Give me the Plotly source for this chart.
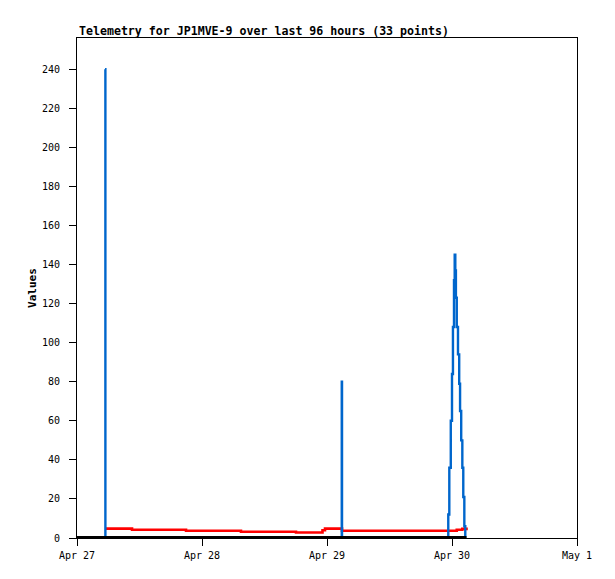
import plotly.graph_objects as go

# Timestamps (shared by the red and blue series)
times = [
    "2024-04-27 05:23", "2024-04-27 05:27", "2024-04-27 10:34", "2024-04-27 20:56",
    "2024-04-28 07:29", "2024-04-28 18:03", "2024-04-28 23:08", "2024-04-28 23:37",
    "2024-04-29 02:50", "2024-04-29 02:53", "2024-04-29 23:17", "2024-04-29 23:29",
    "2024-04-29 23:46", "2024-04-30 00:00", "2024-04-30 00:11", "2024-04-30 00:23",
    "2024-04-30 00:31", "2024-04-30 00:38", "2024-04-30 00:45", "2024-04-30 00:55",
    "2024-04-30 01:09", "2024-04-30 01:23", "2024-04-30 01:33", "2024-04-30 01:46",
    "2024-04-30 01:59", "2024-04-30 02:10", "2024-04-30 02:22", "2024-04-30 02:33",
    "2024-04-30 02:47",
]
red_values = [
    4.8, 4.8, 4.2, 3.7, 3.2, 2.8, 4.0, 4.8, 4.8, 3.7,
    3.7, 3.7, 3.7, 3.7, 3.7, 3.7, 3.7, 3.7, 3.7, 4.2,
    4.2, 4.2, 4.2, 4.2, 4.7, 4.7, 4.7, 4.7, 4.0,
]
blue_values = [
    240, 0, 0, 0, 0, 0, 0, 0, 80, 0,
    12, 36, 60, 84, 108, 132, 145, 137, 123, 108,
    94, 79, 65, 50, 36, 21, 6, 0, 0,
]
black_times = ["2024-04-27 00:00", "2024-04-30 02:47"]
black_values = [0, 0]

x_tickvals = ["2024-04-27", "2024-04-28", "2024-04-29", "2024-04-30", "2024-05-01"]
x_ticktext = ["Apr 27", "Apr 28", "Apr 29", "Apr 30", "May 1"]
y_tickvals = list(range(0, 241, 20))

title_text = "Telemetry for JP1MVE-9 over last 96 hours (33 points)"
mono = "DejaVu Sans Mono"

fig = go.Figure()
fig.add_trace(go.Scatter(x=times, y=red_values, mode="lines",
                         line=dict(color="#FF0000", width=2.6, shape="hv"),
                         showlegend=False, hoverinfo="skip"))
fig.add_trace(go.Scatter(x=times, y=blue_values, mode="lines",
                         line=dict(color="#0066CC", width=2.4, shape="hv"),
                         showlegend=False, hoverinfo="skip"))
fig.add_trace(go.Scatter(x=black_times, y=black_values, mode="lines",
                         line=dict(color="#000000", width=4),
                         showlegend=False, hoverinfo="skip"))

# page body has an 8px default margin, so the figure is sized to fit
fig.update_layout(
    width=607, height=571,
    margin=dict(l=69, r=38, t=30, b=41, autoexpand=False),
    paper_bgcolor="white", plot_bgcolor="white",
    font=dict(family=mono, size=10, color="black"),
    showlegend=False,
    xaxis=dict(type="date", range=["2024-04-27", "2024-05-01"],
               tickvals=x_tickvals, ticktext=x_ticktext, automargin=False,
               showgrid=False, zeroline=False, showline=True, linecolor="black",
               linewidth=1, mirror=True, ticks="outside", ticklen=7,
               tickcolor="black", tickfont=dict(family=mono, size=10),
               ticklabelstandoff=1),
    yaxis=dict(range=[0, 256], tickvals=y_tickvals, automargin=False,
               showgrid=False, zeroline=False, showline=True, linecolor="black",
               linewidth=1, mirror=True, ticks="outside", ticklen=7,
               tickcolor="black", tickfont=dict(family=mono, size=10),
               ticklabelstandoff=7,
               title=dict(text="<b>Values</b>", font=dict(family=mono, size=11),
                          standoff=3)),
    annotations=[dict(text="<b>" + title_text + "</b>", xref="paper", yref="paper",
                      x=0, y=1, xanchor="left", yanchor="bottom", yshift=-2,
                      showarrow=False, font=dict(family=mono, size=11.6))],
)

fig.write_html("out.html")
